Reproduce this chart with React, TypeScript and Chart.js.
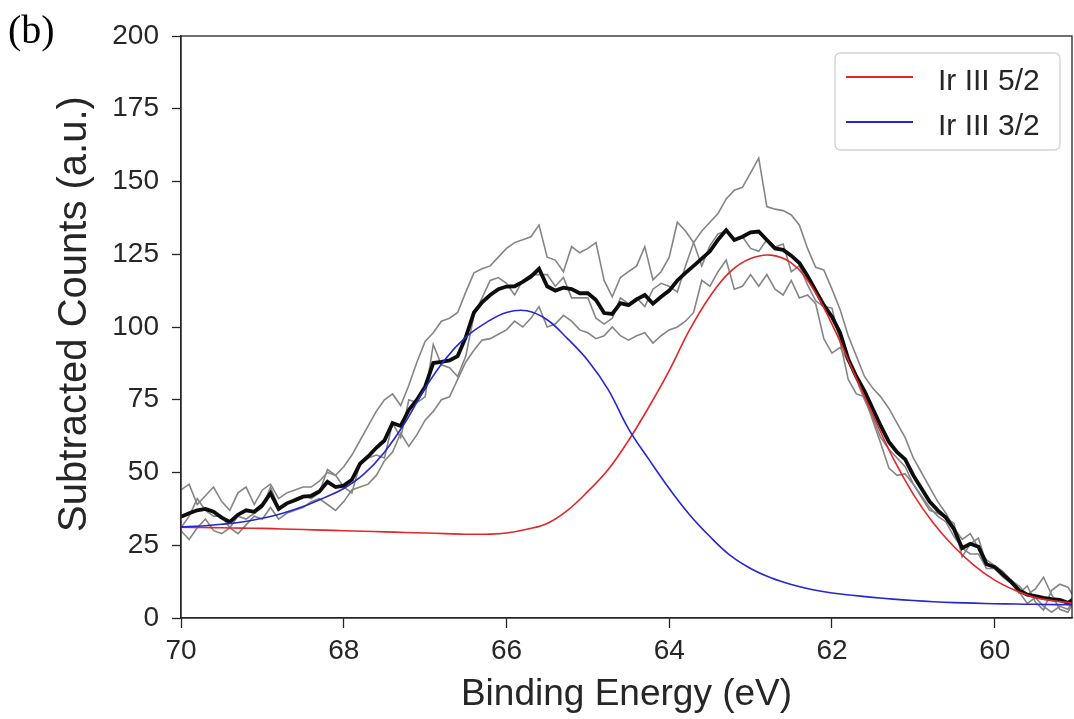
import React, { useEffect, useRef } from 'react';
import { Chart, registerables } from 'chart.js';

Chart.register(...registerables);

// Binding energy grid (eV): scans sampled every 0.1 eV from 70 down to 59
const E_START = 70;
const E_STEP = 0.1;
// Fitted components sampled every 0.25 eV from 70 down to 59
const FIT_STEP = 0.25;

const X_TICKS = [70, 68, 66, 64, 62, 60];
const Y_TICKS = [0, 25, 50, 75, 100, 125, 150, 175, 200];

// Mean spectrum (black)
const MEAN = [
  34.8, 36.0, 37.0, 37.5, 36.5, 34.5, 33.0, 35.5, 37.0, 36.5,
  38.8, 42.9, 37.5, 39.4, 40.5, 41.7, 42.0, 43.5, 46.8, 45.0,
  45.5, 47.5, 53.0, 55.5, 58.5, 61.0, 67.0, 66.0, 71.5, 75.0,
  79.5, 87.6, 88.0, 88.5, 90.0, 96.5, 105.0, 108.5, 111.0, 113.0,
  113.9, 114.0, 115.5, 117.3, 120.0, 114.0, 112.5, 113.5, 113.0, 111.6,
  111.6, 109.3, 104.8, 104.5, 108.2, 107.5, 109.5, 111.0, 108.0, 110.4,
  112.5, 116.0, 118.6, 121.0, 123.5, 126.0, 130.0, 133.3, 129.9, 131.0,
  132.5, 132.8, 129.9, 127.0, 126.5, 124.5, 122.0, 117.5, 112.5, 107.5,
  103.5, 98.0, 89.0, 83.0, 78.0, 72.0, 66.0, 60.5, 57.0, 54.5,
  49.0, 44.5, 40.0, 37.0, 34.5, 30.5, 24.0, 25.5, 24.5, 18.5,
  17.5, 15.0, 12.5, 9.5, 8.0, 7.5, 6.9, 6.5, 6.2, 5.2,
  7.0,
];

// Individual scans (grey)
const SCAN_A = [
  44, 46, 39, 42, 45, 40, 37, 43, 45, 39,
  44, 46, 41, 43, 44, 45, 45, 47, 50, 49,
  52, 56, 61, 66, 71, 75, 77, 73, 80, 88,
  95, 98, 102, 103, 105, 112, 118.6, 120, 121, 124,
  127, 129, 130, 131, 135, 124, 123, 119, 127.6, 125.5,
  127, 129, 116, 110.4, 117, 119, 121, 127.6, 116.2, 119,
  124, 136, 133, 129, 133, 136, 139, 144, 147, 148,
  153, 158, 141.4, 140.5, 140, 138.5, 135, 127, 120.5, 119.6,
  113, 106, 97, 90, 83, 79, 76, 72, 67, 62,
  55, 50, 45, 40, 36, 31, 27, 29, 24, 20,
  18, 16, 13, 11, 8, 10, 14, 8, 3, 2,
  7,
];

const SCAN_B = [
  31, 35, 41, 37, 35, 35, 31, 35, 34, 36,
  38, 45, 38, 39, 41, 42, 41, 43, 51, 49,
  45, 43, 53, 55, 56, 55, 67, 62, 75, 74,
  76, 94, 87, 86, 83, 90, 104, 110, 116, 117,
  115, 111, 116, 118, 118, 118, 114, 117, 110, 110,
  110, 103, 101, 103, 110, 108, 110, 107, 113, 115,
  114, 112, 121, 129, 121, 128, 132, 133, 130, 131,
  127, 126, 130, 127.5, 128.5, 119, 121, 114.5, 109, 107,
  106.5, 95, 82, 77, 76, 68, 60, 51.5, 49, 49.5,
  46, 41.5, 37, 36, 34.5, 32.5, 21, 25.5, 27.5, 18.5,
  17.5, 15, 12.5, 8.5, 11, 5.5, 2.7, 9.5, 11.6, 10.6,
  6,
];

const SCAN_C = [
  30, 27, 31, 34, 30, 29, 31, 29, 32, 35,
  34, 38, 34, 36, 37, 38, 40, 41, 39, 37,
  40, 44, 45, 46, 49, 54, 57, 63.5, 59, 63,
  68, 71, 75, 76, 82, 88, 92, 95.5, 96, 97.5,
  99, 102, 100, 103, 107, 100, 101, 104, 102, 99,
  98, 96, 97, 100, 97, 95.5, 97, 98, 94.5, 97,
  99, 100, 102, 105, 116, 114, 119, 123, 113, 114,
  118, 114, 118, 113, 111, 116, 110, 111, 108, 96,
  91, 93, 88, 82, 75, 69, 62, 58, 55, 52,
  46, 42, 38, 35, 33, 28, 24, 22, 22, 17,
  17, 14, 12, 9, 5, 7, 4, 2, 4, 3,
  8,
];

// Fitted components
const FIT_52 = [
  31.2, 31.1, 31.0, 30.9, 30.8, 30.6, 30.4, 30.2, 30.0, 29.8,
  29.6, 29.4, 29.2, 29.0, 28.8, 28.8, 29.2, 30.5, 32.5, 37.0,
  43.5, 51.0, 61.0, 72.5, 85.0, 99.0, 110.5, 119.0, 123.5, 124.7,
  122.0, 114.0, 101.0, 85.5, 70.0, 55.0, 42.5, 32.5, 24.5, 18.0,
  13.0, 9.5, 7.0, 5.8, 5.0,
];

const FIT_32 = [
  31.3, 31.6, 32.2, 33.0, 34.3, 36.0, 38.3, 41.2, 44.5, 49.5,
  57.0, 67.0, 79.0, 89.0, 96.5, 101.5, 105.0, 105.6, 102.5, 96.0,
  88.5, 78.5, 65.0, 54.5, 44.5, 35.5, 28.0, 21.5, 17.0, 13.8,
  11.5, 9.8, 8.6, 7.8, 7.1, 6.5, 6.0, 5.6, 5.3, 5.1,
  4.9, 4.8, 4.7, 4.6, 4.5,
];

const LEGEND_LABELS = ['Ir III 5/2', 'Ir III 3/2'];
const X_TITLE = 'Binding Energy (eV)';
const Y_TITLE = 'Subtracted Counts (a.u.)';
const PANEL_LABEL = '(b)';

const RED = '#e3262a';
const BLUE = '#2626d2';
const GREY = '#858585';
const TXT = '#262626';
const FONT = "'Liberation Sans', Arial, Helvetica, sans-serif";

const toPoints = (vals: number[], step: number) =>
  vals.map((y, i) => ({ x: +(E_START - i * step).toFixed(2), y }));

export default function App() {
  const ref = useRef<HTMLCanvasElement>(null);

  useEffect(() => {
    if (!ref.current) return;

    const overlay = {
      id: 'overlay',
      afterDraw(chart: any) {
        const { ctx, chartArea } = chart;
        const { left, right, top, bottom } = chartArea;
        ctx.save();
        // box spines
        ctx.strokeStyle = TXT;
        ctx.lineWidth = 1.3;
        ctx.strokeRect(left, top, right - left, bottom - top);

        // legend
        const lx = 835, ly = 53, lw = 225, lh = 97, r = 6;
        ctx.beginPath();
        ctx.moveTo(lx + r, ly);
        ctx.lineTo(lx + lw - r, ly);
        ctx.quadraticCurveTo(lx + lw, ly, lx + lw, ly + r);
        ctx.lineTo(lx + lw, ly + lh - r);
        ctx.quadraticCurveTo(lx + lw, ly + lh, lx + lw - r, ly + lh);
        ctx.lineTo(lx + r, ly + lh);
        ctx.quadraticCurveTo(lx, ly + lh, lx, ly + lh - r);
        ctx.lineTo(lx, ly + r);
        ctx.quadraticCurveTo(lx, ly, lx + r, ly);
        ctx.closePath();
        ctx.fillStyle = 'rgba(255,255,255,0.85)';
        ctx.fill();
        ctx.strokeStyle = '#d2d2d2';
        ctx.lineWidth = 1.3;
        ctx.stroke();

        const rows = [
          { label: LEGEND_LABELS[0], color: RED, y: 77 },
          { label: LEGEND_LABELS[1], color: BLUE, y: 122 },
        ];
        ctx.font = `30px ${FONT}`;
        ctx.textAlign = 'left';
        ctx.textBaseline = 'alphabetic';
        rows.forEach((row) => {
          ctx.beginPath();
          ctx.strokeStyle = row.color;
          ctx.lineWidth = 1.8;
          ctx.moveTo(846, row.y);
          ctx.lineTo(913, row.y);
          ctx.stroke();
          ctx.fillStyle = TXT;
          ctx.fillText(row.label, 938, row.y + 13);
        });

        // axis titles
        ctx.fillStyle = TXT;
        ctx.font = `37px ${FONT}`;
        ctx.textAlign = 'center';
        ctx.textBaseline = 'alphabetic';
        ctx.fillText(X_TITLE, (left + right) / 2, 705);

        ctx.save();
        ctx.font = `40px ${FONT}`;
        ctx.translate(86, 314);
        ctx.rotate(-Math.PI / 2);
        ctx.fillText(Y_TITLE, 0, 0);
        ctx.restore();

        // panel label
        ctx.font = `40px 'Liberation Serif', 'Times New Roman', serif`;
        ctx.textAlign = 'left';
        ctx.fillStyle = '#000';
        ctx.fillText(PANEL_LABEL, 8, 43);
        ctx.restore();
      },
    };

    const chart = new Chart(ref.current, {
      type: 'line',
      data: {
        datasets: [
          {
            label: LEGEND_LABELS[1],
            data: toPoints(FIT_32, FIT_STEP),
            borderColor: BLUE,
            borderWidth: 1.6,
            pointRadius: 0,
            tension: 0.4,
          },
          {
            label: LEGEND_LABELS[0],
            data: toPoints(FIT_52, FIT_STEP),
            borderColor: RED,
            borderWidth: 1.6,
            pointRadius: 0,
            tension: 0.4,
          },
          {
            label: 'Mean',
            data: toPoints(MEAN, E_STEP),
            borderColor: '#0d0d0d',
            borderWidth: 3.8,
            pointRadius: 0,
            tension: 0,
          },
          {
            label: 'Scan 1',
            data: toPoints(SCAN_A, E_STEP),
            borderColor: GREY,
            borderWidth: 1.6,
            pointRadius: 0,
            tension: 0,
          },
          {
            label: 'Scan 2',
            data: toPoints(SCAN_B, E_STEP),
            borderColor: GREY,
            borderWidth: 1.6,
            pointRadius: 0,
            tension: 0,
          },
          {
            label: 'Scan 3',
            data: toPoints(SCAN_C, E_STEP),
            borderColor: GREY,
            borderWidth: 1.6,
            pointRadius: 0,
            tension: 0,
          },
        ],
      },
      options: {
        responsive: false,
        animation: false,
        layout: { padding: { top: 36, right: 2, left: 0, bottom: 0 } },
        plugins: {
          legend: { display: false },
          tooltip: { enabled: false },
          title: { display: false },
        },
        elements: { point: { radius: 0 } },
        scales: {
          x: {
            type: 'linear',
            reverse: true,
            min: 59.05,
            max: 70,
            afterBuildTicks: (s: any) => {
              s.ticks = X_TICKS.map((v) => ({ value: v }));
            },
            afterFit: (s: any) => {
              s.height = 101;
            },
            grid: {
              display: true,
              drawOnChartArea: false,
              drawTicks: true,
              tickLength: 10,
              tickColor: TXT,
              tickWidth: 1.3,
            },
            border: { display: true, color: TXT, width: 1.3 },
            ticks: {
              color: TXT,
              font: { family: FONT, size: 28 },
              padding: 6,
              maxRotation: 0,
              autoSkip: false,
              callback: (v: any) => String(v),
            },
          },
          y: {
            type: 'linear',
            min: 0,
            max: 200,
            afterBuildTicks: (s: any) => {
              s.ticks = Y_TICKS.map((v) => ({ value: v }));
            },
            afterFit: (s: any) => {
              s.width = 181;
            },
            grid: {
              display: true,
              drawOnChartArea: false,
              drawTicks: true,
              tickLength: 9,
              tickColor: TXT,
              tickWidth: 1.3,
            },
            border: { display: true, color: TXT, width: 1.3 },
            ticks: {
              color: TXT,
              font: { family: FONT, size: 28 },
              padding: 13,
              autoSkip: false,
              callback: (v: any) => String(v),
            },
          },
        },
      },
      plugins: [overlay],
    } as any);

    return () => chart.destroy();
  }, []);

  return (
    <div
      style={{
        position: 'fixed',
        left: 0,
        top: 0,
        width: 1074,
        height: 719,
        background: '#fff',
      }}
    >
      <canvas ref={ref} width={1074} height={719} style={{ display: 'block' }} />
    </div>
  );
}
